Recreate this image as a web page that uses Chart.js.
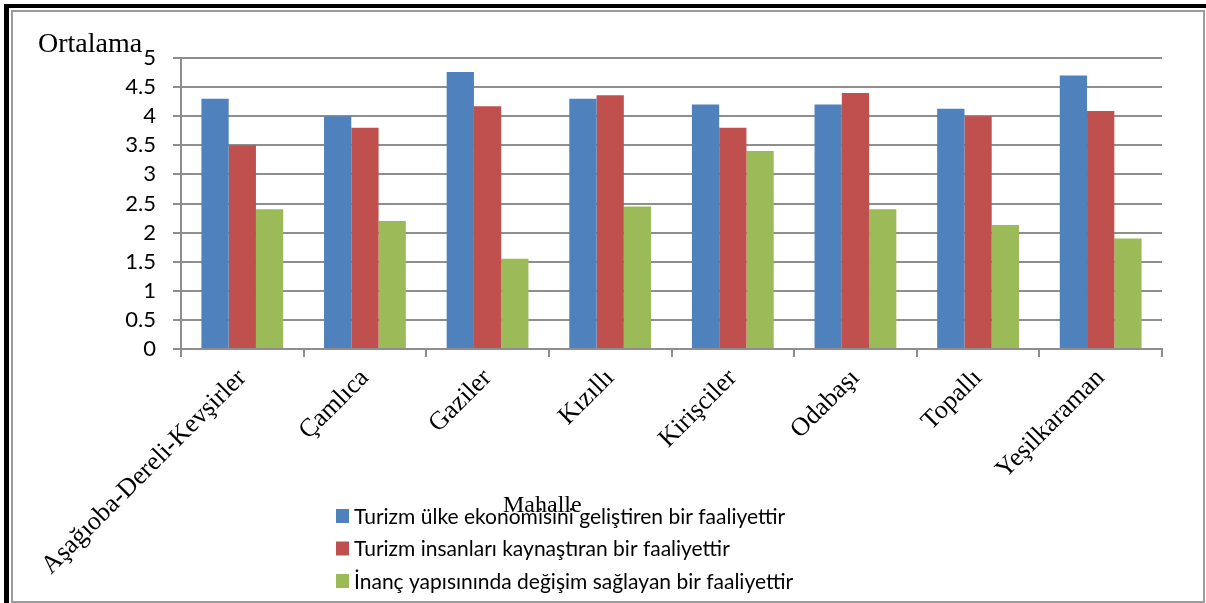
<!DOCTYPE html>
<html>
<head>
<meta charset="utf-8">
<script src="https://cdn.jsdelivr.net/npm/chart.js@4/dist/chart.umd.min.js"></script>
<style>
  body { margin: 0; background: #fff; }
  #wrap { position: relative; width: 1206px; height: 603px; overflow: hidden; }
  #myChart { position: absolute; left: 0; top: 0; }
  .frame { position: absolute; }
</style>
</head>
<body>
<div id="wrap">
  <canvas id="myChart" width="1206" height="603"></canvas>
  <!-- page frame around the figure -->
  <div class="frame" style="left:4px;top:4px;width:1202px;height:4px;background:#000"></div>
  <div class="frame" style="left:4px;top:4px;width:5px;height:599px;background:#000"></div>
  <div class="frame" style="left:11px;top:10px;width:1190px;height:589px;border:2px solid #9a9a9a"></div>
</div>
<script>
// categories (neighbourhoods)
var mahalleler = ['Aşağıoba-Dereli-Kevşirler', 'Çamlıca', 'Gaziler', 'Kızıllı', 'Kirişciler', 'Odabaşı', 'Topallı', 'Yeşilkaraman'];

// series labels
var seriesNames = [
    'Turizm ülke ekonomisini geliştiren bir faaliyettir',
    'Turizm insanları kaynaştıran bir faaliyettir',
    'İnanç yapısınında değişim sağlayan bir faaliyettir'
];

// mean values
var ekonomi = [4.3, 4.0, 4.76, 4.3, 4.2, 4.2, 4.13, 4.7];
var kaynastirma = [3.5, 3.8, 4.17, 4.36, 3.8, 4.4, 4.0, 4.09];
var inanc = [2.4, 2.2, 1.55, 2.45, 3.4, 2.4, 2.13, 1.9];

// y axis ticks
var yMin = 0, yMax = 5, yStep = 0.5;

var colors = ['#4F81BD', '#C0504D', '#9BBB59'];
var gridColor = '#8e8e8e';

// axis titles drawn where the original has them (not centred on the axes)
var axisTitlePlugin = {
    id: 'axisTitles',
    afterDraw: function(chart) {
        var c = chart.ctx;
        c.save();
        c.fillStyle = '#000';
        c.textBaseline = 'alphabetic';
        c.textAlign = 'left';
        c.font = '28px "Liberation Serif"';
        c.fillText('Ortalama', 38, 52);
        c.font = '24px "Liberation Serif"';
        c.fillText('Mahalle', 503, 512);
        c.restore();
    }
};

// vertical legend under the x axis
var legendPlugin = {
    id: 'vertLegend',
    afterDraw: function(chart) {
        var c = chart.ctx;
        c.save();
        c.font = '21px Lato';
        c.textBaseline = 'middle';
        c.textAlign = 'left';
        chart.data.datasets.forEach(function(ds, i) {
            var y = 516 + i * 32.5;
            c.fillStyle = ds.backgroundColor;
            c.fillRect(336, y - 7, 13, 14);
            c.fillStyle = '#000';
            c.fillText(ds.label, 354, y + 1);
        });
        c.restore();
    }
};

var ctx = document.getElementById('myChart').getContext('2d');
var chart = new Chart(ctx, {
    type: 'bar',
    data: {
        labels: mahalleler,
        datasets: [
            { label: seriesNames[0], data: ekonomi, backgroundColor: colors[0] },
            { label: seriesNames[1], data: kaynastirma, backgroundColor: colors[1] },
            { label: seriesNames[2], data: inanc, backgroundColor: colors[2] }
        ]
    },
    options: {
        responsive: false,
        animation: false,
        devicePixelRatio: 1,
        layout: { padding: { top: 58, right: 44, bottom: 0, left: 0 } },
        datasets: { bar: { categoryPercentage: 0.667, barPercentage: 1 } },
        plugins: {
            legend: { display: false },
            tooltip: { enabled: false }
        },
        scales: {
            x: {
                grid: { offset: true, drawOnChartArea: false, drawTicks: true, tickLength: 8, color: gridColor, lineWidth: 2 },
                border: { color: gridColor, width: 2 },
                ticks: {
                    color: '#000',
                    font: { family: 'Liberation Serif', size: 26 },
                    minRotation: 45,
                    maxRotation: 45,
                    padding: 6,
                    autoSkip: false
                },
                afterFit: function(scale) { scale.height = 603 - 349; }
            },
            y: {
                min: yMin,
                max: yMax,
                grid: { color: gridColor, lineWidth: 2, tickLength: 8 },
                border: { color: gridColor, width: 2 },
                ticks: {
                    stepSize: yStep,
                    autoSkip: false,
                    color: '#000',
                    font: { family: 'Lato', size: 22 },
                    padding: 17,
                    callback: function(v) { return String(v); }
                },
                afterFit: function(scale) { scale.width = 181; }
            }
        }
    },
    plugins: [axisTitlePlugin, legendPlugin]
});
</script>
</body>
</html>
